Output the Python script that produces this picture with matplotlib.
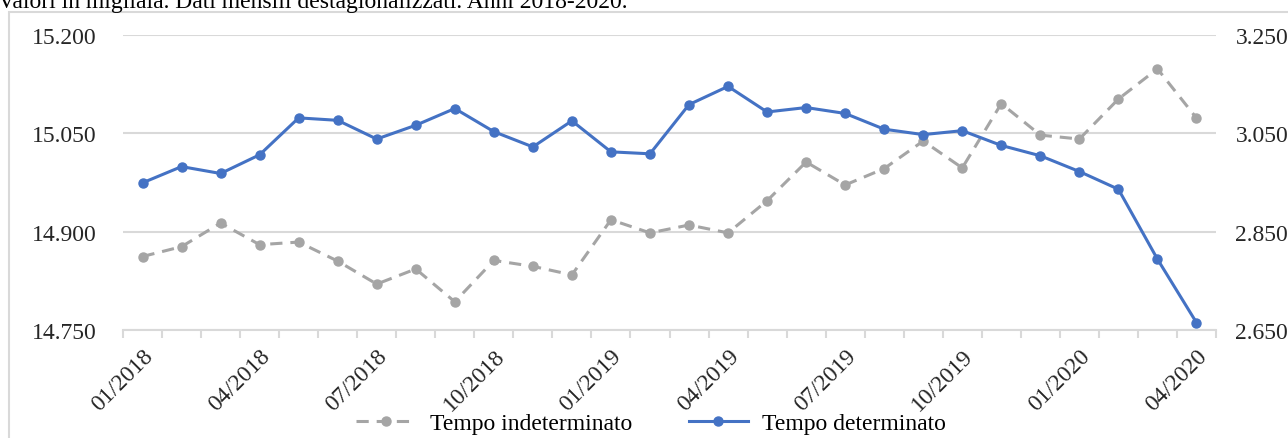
import matplotlib.pyplot as plt
import matplotlib.ticker as mticker
from matplotlib.patches import Rectangle
import numpy as np

# dati mensili destagionalizzati (migliaia)
mesi = ['01/2018', '02/2018', '03/2018', '04/2018', '05/2018', '06/2018', '07/2018',
        '08/2018', '09/2018', '10/2018', '11/2018', '12/2018', '01/2019', '02/2019',
        '03/2019', '04/2019', '05/2019', '06/2019', '07/2019', '08/2019', '09/2019',
        '10/2019', '11/2019', '12/2019', '01/2020', '02/2020', '03/2020', '04/2020']
indeterminato = [14862, 14877, 14913, 14880, 14884, 14855, 14820, 14843, 14793, 14856,
                 14847, 14834, 14918, 14898, 14910, 14898, 14947, 15006, 14971, 14996,
                 15038, 14997, 15095, 15047, 15041, 15102, 15148, 15073]
determinato = [2949, 2982, 2968, 3006, 3081, 3076, 3038, 3066, 3100, 3053,
               3022, 3075, 3012, 3008, 3108, 3145, 3093, 3102, 3090, 3058,
               3047, 3055, 3025, 3004, 2972, 2936, 2794, 2665]

grigio = '#A5A5A5'
blu = '#4472C4'
griglia = '#D9D9D9'
font = ['Liberation Serif', 'DejaVu Serif']
plt.rcParams['font.family'] = font
fs = 17

fig = plt.figure(figsize=(12.88, 4.39), dpi=100)
ax = fig.add_axes([123 / 1288, 1 - 331 / 439, (1216 - 123) / 1288, (331 - 35.7) / 439])
ax2 = ax.twinx()

x = np.arange(len(mesi))
l1, = ax.plot(x, indeterminato, color=grigio, lw=2.2, dashes=(4, 2.6),
              marker='o', markersize=6.5, label='Tempo indeterminato')
l2, = ax2.plot(x, determinato, color=blu, lw=2.2,
               marker='o', markersize=6.5, label='Tempo determinato')

fmt = mticker.FuncFormatter(lambda v, p: f'{v:,.0f}'.replace(',', '.'))
ax.set_ylim(14750, 15200)
ax.set_yticks(np.arange(14750, 15201, 150))
ax.yaxis.set_major_formatter(fmt)
ax2.set_ylim(2650, 3250)
ax2.set_yticks(np.arange(2650, 3251, 200))
ax2.yaxis.set_major_formatter(fmt)
ax.grid(axis='y', color=griglia, lw=1.5)
ax.set_axisbelow(True)

ax.set_xlim(-0.5, len(mesi) - 0.5)
ax.set_xticks(x[::3])
ax.set_xticklabels(mesi[::3], rotation=45, ha='right', rotation_mode='anchor', fontsize=fs)
ax.set_xticks(np.arange(-0.5, len(mesi), 1), minor=True)
ax.tick_params(axis='x', which='major', length=0, pad=11, colors='#262626')
ax.tick_params(axis='x', which='minor', length=6, width=1.5, color=griglia)
ax.tick_params(axis='y', length=0, pad=19, labelsize=fs, colors='#262626')
ax2.tick_params(axis='y', length=0, pad=14, labelsize=fs, colors='#262626')

for a in (ax, ax2):
    for s in ('top', 'left', 'right'):
        a.spines[s].set_visible(False)
    a.spines['bottom'].set_color(griglia)
    a.spines['bottom'].set_linewidth(1.5)
ax2.spines['bottom'].set_visible(False)

fig.legend(handles=[l1, l2], loc='center', bbox_to_anchor=(651 / 1288, 1 - 424 / 439),
           ncol=2, frameon=False, fontsize=fs, handlelength=2.5, handletextpad=0.6,
           columnspacing=2.4)

# cornice e titolo tagliato
fig.patches.append(Rectangle((8.5 / 1288, -0.1), 1.2, 1 - 13 / 439 + 0.1,
                             transform=fig.transFigure, fill=False,
                             edgecolor=griglia, lw=1.5))
fig.text(-2 / 1288, 1 - 8 / 439, 'Valori in migliaia. Dati mensili destagionalizzati. Anni 2018-2020.',
         fontsize=fs, va='baseline', ha='left', color='black')

fig.savefig('out.png', dpi=100)
